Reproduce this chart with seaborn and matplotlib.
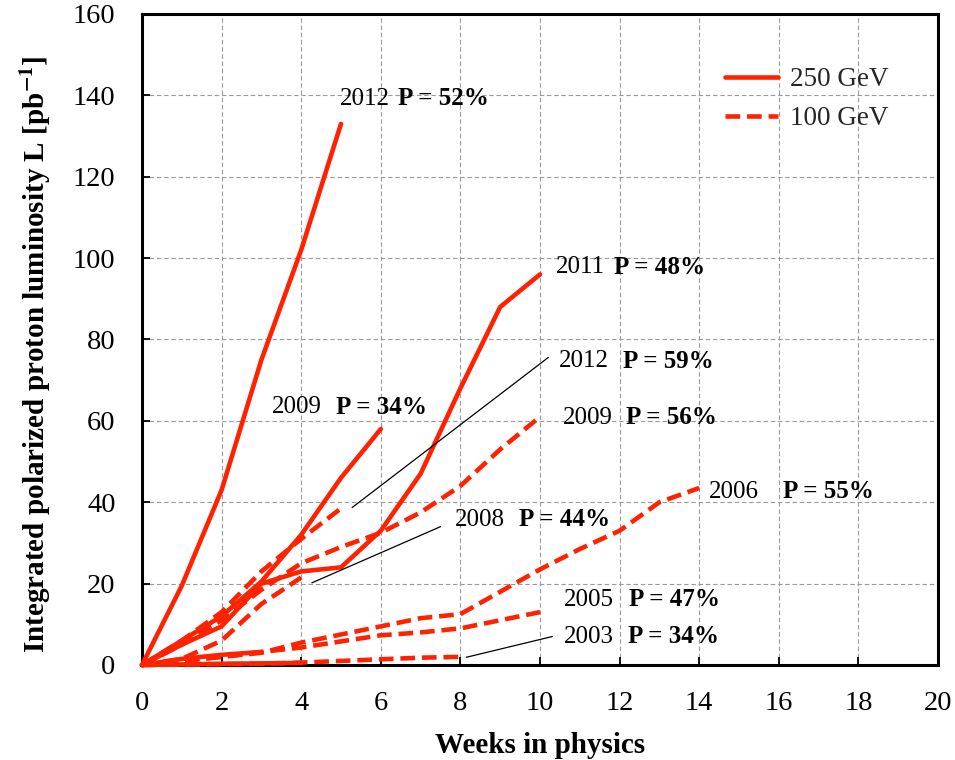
import matplotlib
matplotlib.use("Agg")
import matplotlib.pyplot as plt
import seaborn as sns
import pandas as pd
from matplotlib.lines import Line2D

# ---------------- data ----------------
# 250 GeV runs (solid)
weeks_2012_250 = [0, 1, 2, 3, 4, 5]
lumi_2012_250 = [0, 19.5, 43, 75, 102, 133]
weeks_2011_250 = [0, 1, 2, 3, 4, 5, 6, 7, 8, 9, 10]
lumi_2011_250 = [0, 5, 9.5, 20, 23, 24, 33, 47, 68, 88, 96]
weeks_2009_250 = [0, 1, 2, 3, 4, 5, 6]
lumi_2009_250 = [0, 6, 12, 20.5, 32, 46, 58]
weeks_lowA_250 = [0, 1, 2, 3]
lumi_lowA_250 = [0, 1.5, 2.5, 3.2]
weeks_lowB_250 = [0, 2, 4]
lumi_lowB_250 = [0, 0.3, 0.5]

# 100 GeV runs (dashed)
weeks_2012_100 = [0, 1, 2, 3, 4, 5]
lumi_2012_100 = [0, 6, 13, 23, 31, 38.5]
weeks_2009_100 = [0, 1, 2, 3, 4, 5, 6, 7, 8, 9, 10]
lumi_2009_100 = [0, 5, 11, 18.5, 25, 29, 32.5, 37.5, 44, 53, 61]
weeks_2008_100 = [0, 1, 2, 3, 4]
lumi_2008_100 = [0, 1.5, 6, 15, 21.5]
weeks_2006_100 = [0, 1, 2, 3, 4, 5, 6, 7, 8, 9, 10, 11, 12, 13, 14]
lumi_2006_100 = [0, 1, 2, 3, 5.5, 7.5, 9.5, 11.5, 12.5, 18, 23.5, 28.5, 33, 40, 43.5]
weeks_2005_100 = [0, 1, 2, 3, 4, 5, 6, 7, 8, 9, 10]
lumi_2005_100 = [0, 1, 2, 3.2, 4.3, 5.8, 7.3, 8, 9, 11, 13]
weeks_2003_100 = [0, 1, 2, 3, 4, 5, 6, 7, 8]
lumi_2003_100 = [0, 0.1, 0.2, 0.3, 0.6, 1.0, 1.4, 1.8, 2.0]

label_years = ["2012", "2011", "2012", "2009", "2009", "2006", "2008", "2005", "2003"]
label_pols = ["P = 52%", "P = 48%", "P = 59%", "P = 56%", "P = 34%",
              "P = 55%", "P = 44%", "P = 47%", "P = 34%"]

x_ticks = [0, 2, 4, 6, 8, 10, 12, 14, 16, 18, 20]
y_ticks = [0, 20, 40, 60, 80, 100, 120, 140, 160]
legend_labels = ["250 GeV", "100 GeV"]

# ---------------- layout ----------------
label_year_x = [4.98, 10.39, 10.47, 10.57, 3.27, 14.24, 7.87, 10.59, 10.59]
label_pol_x = [6.44, 11.85, 12.08, 12.15, 4.88, 16.10, 9.46, 12.23, 12.20]
label_y = [139.2, 97.8, 74.6, 60.8, 63.3, 42.6, 35.7, 16.0, 6.9]
leaders = [((10.21, 75.6), (5.28, 38.7)),
           ((7.50, 34.0), (4.27, 20.2)),
           ((10.31, 7.0), (8.15, 1.9))]

RED = "#ff2200"
DASH = (0, (3.2, 1.5))

sns.set_theme(style="white")
plt.rcParams["font.family"] = ["Liberation Serif", "DejaVu Serif"]
plt.rcParams["mathtext.fontset"] = "stix"

fig = plt.figure(figsize=(9.55, 7.6), dpi=100)
ax = fig.add_axes([142 / 955, 1 - 665 / 760, (938 - 142) / 955, (665 - 14) / 760])

solid_series = [(weeks_2012_250, lumi_2012_250), (weeks_2011_250, lumi_2011_250),
                (weeks_2009_250, lumi_2009_250), (weeks_lowA_250, lumi_lowA_250),
                (weeks_lowB_250, lumi_lowB_250)]
dashed_series = [(weeks_2012_100, lumi_2012_100), (weeks_2009_100, lumi_2009_100),
                 (weeks_2008_100, lumi_2008_100), (weeks_2006_100, lumi_2006_100),
                 (weeks_2005_100, lumi_2005_100), (weeks_2003_100, lumi_2003_100)]

for w, l in dashed_series:
    sns.lineplot(x=w, y=l, ax=ax, color=RED, linewidth=3.3, linestyle=DASH,
                 errorbar=None, clip_on=False, zorder=3)
for w, l in solid_series:
    sns.lineplot(x=w, y=l, ax=ax, color=RED, linewidth=3.3, linestyle="-",
                 errorbar=None, clip_on=False, zorder=3)

for yr, pol, xy, xp, yy in zip(label_years, label_pols, label_year_x, label_pol_x, label_y):
    ax.text(xy, yy, yr, fontsize=18, va="center", ha="left", color="black")
    ax.text(xp, yy, pol, fontsize=18, va="center", ha="left", color="black",
            fontweight="bold")

for start, end in leaders:
    ax.annotate("", xy=end, xytext=start,
                arrowprops=dict(arrowstyle="-", color="black", lw=0.9,
                                shrinkA=0, shrinkB=0))

ax.set_xlim(0, 20)
ax.set_ylim(0, 160)
ax.set_xticks(x_ticks)
ax.set_yticks(y_ticks)
ax.set_xticklabels([str(t) for t in x_ticks])
ax.set_yticklabels([str(t) for t in y_ticks])
ax.tick_params(axis="both", which="both", direction="in", length=6, width=1.3,
               labelsize=20.5, colors="black", bottom=True, left=True,
               top=False, right=False)
ax.tick_params(axis="x", pad=19)
ax.tick_params(axis="y", pad=19)

ax.grid(True, color="#9a9a9a", linestyle=(0, (4, 2.5)), linewidth=0.8)
ax.set_axisbelow(True)
for sp in ax.spines.values():
    sp.set_visible(True)
    sp.set_color("black")
    sp.set_linewidth(2.2)

ax.set_xlabel("Weeks in physics", fontsize=21, fontweight="bold", color="black")
ax.set_ylabel(r"Integrated polarized proton luminosity L [pb$^{\mathbf{-1}}$]",
              fontsize=21, fontweight="bold", color="black")
ax.xaxis.set_label_coords(0.5, -0.103)
ax.yaxis.set_label_coords(-0.112, 0.478)

handles = [Line2D([0], [0], color=RED, lw=3.3, linestyle="-"),
           Line2D([0], [0], color=RED, lw=3.3, linestyle=DASH)]
ax.legend(handles, legend_labels, loc="upper left", bbox_to_anchor=(0.719, 0.935),
          frameon=False, fontsize=19.5, handlelength=1.96, handletextpad=0.42,
          labelspacing=0.52, borderaxespad=0)

fig.savefig("out.png", dpi=100)
